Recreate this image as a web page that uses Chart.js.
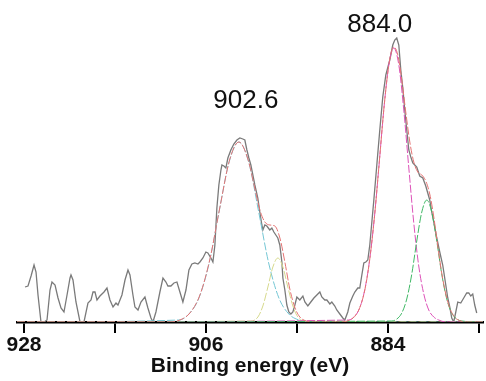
<!DOCTYPE html>
<html>
<head>
<meta charset="utf-8">
<script src="https://cdn.jsdelivr.net/npm/chart.js@4/dist/chart.umd.min.js"></script>
<style>
  html, body { margin: 0; padding: 0; background: #ffffff; }
  #wrap { width: 486px; height: 381px; }
</style>
</head>
<body>
<div id="wrap"><canvas id="c" width="486" height="381"></canvas></div>
<script>
// ---- Measured spectrum (binding energy in eV, intensity in a.u.) ----
const energy = [927.88,927.52,927.15,926.79,926.55,926.31,925.95,925.58,925.22,924.86,924.62,924.25,923.89,923.53,923.17,922.80,922.44,922.32,922.08,921.72,921.23,920.75,920.27,919.90,919.66,919.42,919.18,918.82,918.33,917.97,917.61,917.24,916.88,916.64,916.40,916.16,915.79,915.43,915.19,914.83,914.59,914.22,913.86,913.38,913.02,912.65,912.41,912.05,911.57,911.20,910.84,910.60,910.24,909.87,909.51,909.15,908.79,908.42,908.06,907.70,907.34,906.97,906.73,906.37,906.01,905.77,905.40,905.16,904.92,904.68,904.44,904.19,904.07,903.83,903.59,903.35,902.99,902.63,902.26,901.90,901.54,901.30,901.05,900.81,900.57,900.33,900.09,899.73,899.49,899.24,899.12,898.88,898.64,898.28,898.03,897.79,897.55,897.31,897.07,896.82,896.70,896.46,896.22,895.98,895.73,895.49,895.25,895.01,894.65,894.28,894.04,893.68,893.32,892.95,892.59,892.23,891.99,891.63,891.38,891.02,890.78,890.42,890.18,889.81,889.45,889.21,888.85,888.60,888.24,888.00,887.64,887.40,887.15,886.91,886.67,886.43,886.19,885.95,885.70,885.34,884.98,884.62,884.25,883.77,883.41,883.17,882.93,882.68,882.44,882.20,881.96,881.72,881.47,881.23,880.99,880.75,880.51,880.15,879.78,879.42,879.18,878.94,878.70,878.45,878.09,877.73,877.37,877.00,876.76,876.52,876.28,876.04,875.79,875.55,875.19,874.83,874.47,874.22,873.98,873.74,873.50,873.26];
const intensity = [35,36,46,57,50,27,0,0,2,32,40,37,24,14,10,27,44,47,42,20,0,0,19,22,30,30,22,26,30,34,22,15,19,17,22,27,42,52,47,27,15,12,20,25,14,4,0,10,30,44,40,36,36,39,40,30,20,32,52,58,59,58,60,64,70,69,64,60,77,114,137,152,157,156,154,164,172,178,182,184,183,182,172,164,157,147,137,124,110,97,92,97,96,92,94,90,87,84,77,60,44,32,17,10,8,10,17,25,22,26,20,16,20,24,27,30,25,22,22,18,20,16,12,8,4,2,10,19,26,30,34,34,47,59,60,62,77,99,122,157,192,225,247,262,277,282,284,277,252,234,212,192,172,165,159,157,155,146,144,136,129,122,110,100,84,70,57,37,24,15,4,0,10,20,19,24,29,29,26,28,17,9];

// ---- Fitted components ----
const cyanEnergy = [928.85,909.27,908.06,906.85,905.64,904.44,903.23,902.02,900.81,899.60,898.39,897.18,895.98,894.77,893.56,872.5];
const cyanValue  = [0,2,8,24,58,109,159,180,159,109,58,24,8,2,0,0];

const yellowEnergy = [928.85,900.57,899.72,899.12,898.51,897.91,897.31,896.70,896.10,895.49,894.89,894.04,872.5];
const yellowValue  = [0,1,5,16,35,55,64,55,35,16,5,1,0];

const magentaEnergy = [928.85,888.72,888.12,887.52,886.91,886.31,885.70,885.10,884.50,883.89,883.29,882.68,882.08,881.47,880.87,880.27,879.66,879.06,878.45,877.85,877.00,872.5];
const magentaValue  = [0,2,5,12,28,56,99,154,212,257,274,257,212,154,99,56,28,12,5,2,0,0];

const greenEnergy = [928.85,883.53,882.92,882.32,881.72,881.11,880.51,879.90,879.30,878.70,878.09,877.49,876.88,876.28,875.67,875.07,872.5];
const greenValue  = [0,1,3,9,23,48,81,110,122,110,81,48,23,9,3,1,0];

const envelopeEnergy = [928.85,910.36,909.15,907.94,906.73,905.52,904.31,903.11,902.02,900.93,900.08,899.48,898.88,898.27,897.67,897.06,896.46,895.86,895.25,894.65,894.04,893.20,889.81,888.60,888.00,887.40,886.79,886.19,885.58,884.98,884.37,883.77,883.29,882.80,882.32,881.84,881.35,880.87,880.39,879.90,879.42,878.94,878.45,877.97,877.49,877.00,876.52,875.92,875.31,874.59,872.5];
const envelopeValue  = [0,0,2,9,27,63,115,163,180,163,133,112,100,97,96,84,60,33,14.5,5,1.5,0,0,2,5.7,14.4,32,63,109,166,223,263,275,267,242,210,180,160,150,147,141,128,105,76,49,28,14,4.8,1.4,0,0];

// ---- Axis ticks and peak annotations ----
const tickValues = [928, 917, 906, 895, 884, 873];
const tickLabels = ['928', '', '906', '', '884', ''];
const peakLabels = ['902.6', '884.0'];
const peakLabelEnergy = [901.17, 884.98];
const peakLabelHeight = [214, 290];

function pts(xs, ys) { return xs.map((x, i) => ({ x: x, y: ys[i] })); }

const FONT = '"Liberation Sans", Arial, Helvetica, sans-serif';

const peakLabelPlugin = {
  id: 'peakLabels',
  afterDatasetsDraw(chart) {
    const ctx = chart.ctx;
    const xs = chart.scales.x, ys = chart.scales.y;
    ctx.save();
    ctx.font = '26px ' + FONT;
    ctx.fillStyle = '#111111';
    ctx.textAlign = 'center';
    ctx.textBaseline = 'alphabetic';
    peakLabels.forEach((t, i) => {
      ctx.fillText(t, xs.getPixelForValue(peakLabelEnergy[i]), ys.getPixelForValue(peakLabelHeight[i]));
    });
    ctx.restore();
  }
};

const compStyle = (color, order) => ({
  borderColor: color, borderWidth: 1, borderDash: [8, 2], pointRadius: 0,
  cubicInterpolationMode: 'monotone', fill: false, order: order
});

new Chart(document.getElementById('c'), {
  type: 'line',
  data: {
    datasets: [
      Object.assign({ label: 'Envelope', data: pts(envelopeEnergy, envelopeValue) }, compStyle('#e57373', 0)),
      Object.assign({ label: 'Peak 884 shoulder', data: pts(greenEnergy, greenValue) }, compStyle('#3fb865', 1)),
      Object.assign({ label: 'Peak 884', data: pts(magentaEnergy, magentaValue) }, compStyle('#dd52b8', 2)),
      Object.assign({ label: 'Satellite', data: pts(yellowEnergy, yellowValue) }, compStyle('#d6d98c', 3)),
      Object.assign({ label: 'Peak 902', data: pts(cyanEnergy, cyanValue) }, compStyle('#74c6d4', 4)),
      { label: 'Spectrum', data: pts(energy, intensity), borderColor: '#7a7a7a', borderWidth: 1.3,
        pointRadius: 0, tension: 0, fill: false, order: 5 }
    ]
  },
  options: {
    responsive: false,
    animation: false,
    devicePixelRatio: 1,
    layout: { padding: { left: 17, right: 3, top: 0, bottom: 0 } },
    plugins: { legend: { display: false }, tooltip: { enabled: false } },
    scales: {
      x: {
        type: 'linear',
        reverse: true,
        min: 872.5,
        max: 928.85,
        afterBuildTicks(scale) { scale.ticks = tickValues.map(v => ({ value: v })); },
        afterFit(scale) { scale.height = 59; },
        border: { display: true, color: '#000000', width: 2.5 },
        grid: { display: true, drawOnChartArea: false, drawTicks: true, tickLength: 11, color: '#000000', lineWidth: 2 },
        ticks: {
          autoSkip: false, maxRotation: 0, padding: 0, color: '#111111',
          font: { family: FONT, size: 21, weight: 'bold' },
          callback(value) { const i = tickValues.indexOf(value); return i >= 0 ? tickLabels[i] : ''; }
        },
        title: { display: true, text: 'Binding energy (eV)', color: '#111111',
          font: { family: FONT, size: 21, weight: 'bold' }, padding: { top: 0, bottom: 2 } }
      },
      y: { display: false, min: 0, max: 322 }
    }
  },
  plugins: [peakLabelPlugin]
});
</script>
</body>
</html>
